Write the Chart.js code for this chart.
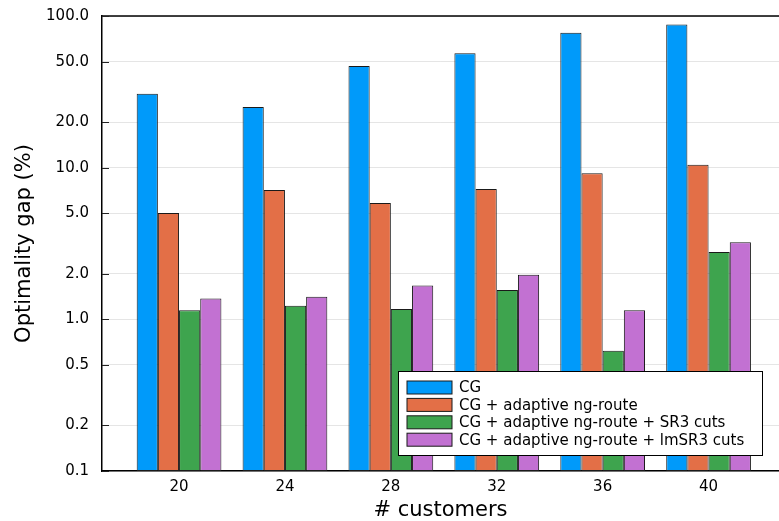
<!DOCTYPE html>
<html>
<head>
<meta charset="utf-8">
<script src="https://cdn.jsdelivr.net/npm/chart.js@4"></script>
<style>
  html, body { margin: 0; padding: 0; background: #fff; }
  #wrap { width: 779px; height: 521px; }
</style>
</head>
<body>
<div id="wrap"><canvas id="myChart" width="779" height="521"></canvas></div>
<script>
// donnees
var customers = [20, 24, 28, 32, 36, 40];
var gapCG = [30.7, 25.1, 46.8, 56.7, 77.5, 88];
var gapNg = [5.02, 7.12, 5.84, 7.23, 9.17, 10.45];
var gapSR3 = [1.15, 1.23, 1.17, 1.56, 0.62, 2.78];
var gapImSR3 = [1.37, 1.41, 1.67, 1.97, 1.15, 3.22];
var yTicks = [0.1, 0.2, 0.5, 1, 2, 5, 10, 20, 50, 100];

var seriesNames = [
  'CG',
  'CG + adaptive ng-route',
  'CG + adaptive ng-route + SR3 cuts',
  'CG + adaptive ng-route + lmSR3 cuts'
];
var seriesColors = ['#009AFA', '#E36F47', '#3EA44E', '#C271D2'];
var seriesValues = [gapCG, gapNg, gapSR3, gapImSR3];

function toPoints(vals) {
  return customers.map(function (c, i) { return { x: c, y: vals[i] }; });
}

var datasets = seriesValues.map(function (vals, k) {
  return {
    label: seriesNames[k],
    data: toPoints(vals),
    backgroundColor: seriesColors[k],
    borderColor: '#1a1a1a',
    borderWidth: 1,
    borderSkipped: false,
    categoryPercentage: 0.8,
    barPercentage: 1.0
  };
});

var fontFam = '"DejaVu Sans", sans-serif';

// cadre du haut, petits traits de graduation et legende dans la zone du graphique
var framePlugin = {
  id: 'frame',
  afterDatasetsDraw: function (chart) {
    var ctx = chart.ctx;
    var a = chart.chartArea;
    var y = chart.scales.y;
    ctx.save();
    ctx.strokeStyle = '#000';
    ctx.lineWidth = 1.5;
    ctx.beginPath();
    ctx.moveTo(a.left, a.top);
    ctx.lineTo(a.right + 1, a.top);
    ctx.stroke();
    ctx.lineWidth = 1;
    ctx.strokeStyle = '#222';
    yTicks.forEach(function (v) {
      var py = Math.round(y.getPixelForValue(v)) + 0.5;
      ctx.beginPath();
      ctx.moveTo(a.left, py);
      ctx.lineTo(a.left + 7, py);
      ctx.stroke();
    });

    // legende
    var bx = 398.5, by = 371.5, bw = 364, bh = 84;
    ctx.fillStyle = '#fff';
    ctx.fillRect(bx, by, bw, bh);
    ctx.strokeStyle = '#000';
    ctx.lineWidth = 1;
    ctx.strokeRect(bx, by, bw, bh);
    ctx.font = '15px ' + fontFam;
    ctx.textBaseline = 'middle';
    ctx.textAlign = 'left';
    chart.data.datasets.forEach(function (ds, i) {
      var cy = 387.5 + i * 17.4;
      ctx.fillStyle = ds.backgroundColor;
      ctx.fillRect(407, cy - 6.5, 45, 13);
      ctx.strokeStyle = '#1a1a1a';
      ctx.strokeRect(407, cy - 6.5, 45, 13);
      ctx.fillStyle = '#000';
      ctx.fillText(ds.label, 459, cy + 1);
    });
    ctx.restore();
  }
};

var ctx = document.getElementById('myChart').getContext('2d');
var myChart = new Chart(ctx, {
  type: 'bar',
  data: { datasets: datasets },
  plugins: [framePlugin],
  options: {
    responsive: false,
    animation: false,
    layout: { padding: { top: 16, right: 0, left: 0, bottom: 0 } },
    plugins: {
      legend: { display: false },
      tooltip: { enabled: false }
    },
    scales: {
      x: {
        type: 'linear',
        offset: false,
        min: 17.09,
        max: 42.66,
        afterBuildTicks: function (scale) {
          scale.ticks = customers.map(function (c) { return { value: c }; });
        },
        afterFit: function (scale) {
          scale.height = 50;
          scale.paddingLeft = 0;
          scale.paddingRight = 0;
        },
        grid: { display: false, drawTicks: false, offset: false },
        border: { display: true, color: '#000', width: 1.5 },
        ticks: {
          padding: 7,
          color: '#000',
          font: { family: fontFam, size: 15 },
          callback: function (v) { return String(v); }
        },
        title: {
          display: true,
          text: '# customers',
          color: '#000',
          font: { family: fontFam, size: 21, lineHeight: 1 },
          padding: { top: 0, bottom: 0 }
        }
      },
      y: {
        type: 'logarithmic',
        min: 0.1,
        max: 100,
        afterBuildTicks: function (scale) {
          scale.ticks = yTicks.map(function (v) { return { value: v }; });
        },
        afterFit: function (scale) {
          scale.width = 102;
          scale.paddingTop = 0;
          scale.paddingBottom = 0;
        },
        grid: { color: 'rgba(0,0,0,0.1)', lineWidth: 1, drawTicks: false },
        border: { display: true, color: '#000', width: 1.5 },
        ticks: {
          padding: 13,
          color: '#000',
          font: { family: fontFam, size: 15 },
          callback: function (v) { return Number(v).toFixed(1); }
        },
        title: {
          display: true,
          text: 'Optimality gap (%)',
          color: '#000',
          font: { family: fontFam, size: 21, lineHeight: 1 },
          padding: { top: 14, bottom: 0 }
        }
      }
    }
  }
});
</script>
</body>
</html>
